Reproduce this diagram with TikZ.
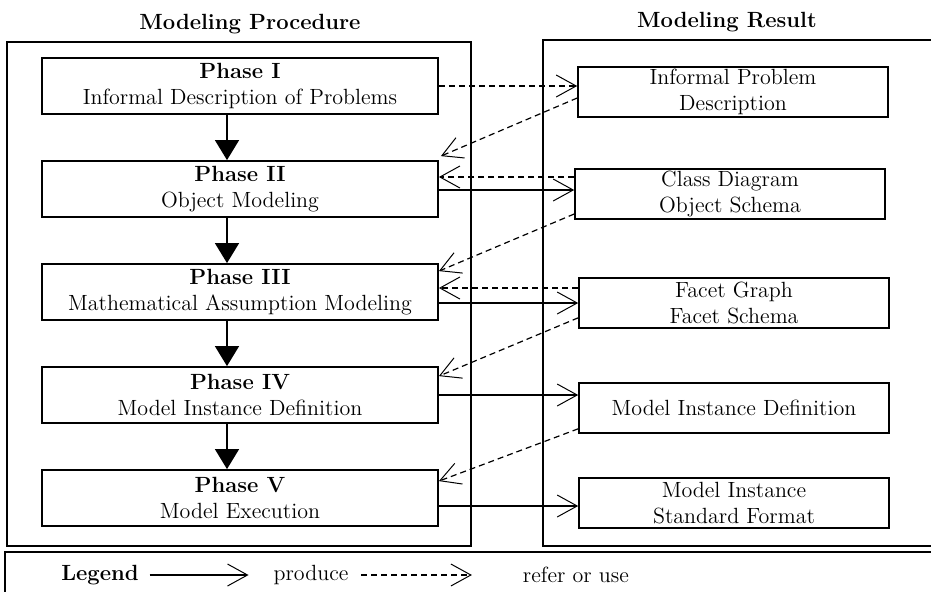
\documentclass[tikz,border=0pt]{standalone}
\usepackage{tikz}
\usetikzlibrary{arrows.meta, positioning, calc}

\begin{document}
\begin{tikzpicture}[
x=0.5pt, y=0.5pt,
node distance=51.5pt,
every node/.style={font=\fontsize{11}{13.2}\selectfont},
box/.style={rectangle, draw=black, line width=0.9pt, minimum width=198pt, minimum height=28pt, align=center, inner sep=1pt},
resbox/.style={rectangle, draw=black, line width=0.8pt, minimum width=155pt, minimum height=25pt, align=center, inner sep=1pt},
title/.style={font=\fontsize{11}{13.2}\selectfont\bfseries},
frame/.style={draw=black, line width=0.7pt},
flow/.style={-{Triangle[width=12pt, length=10pt]}, line width=0.7pt},
produce/.style={-{Straight Barb[width=11pt, length=10pt, line width=0.5pt]}, line width=0.7pt},
refer/.style={-{Straight Barb[width=11pt, length=10pt, line width=0.5pt]}, line width=0.6pt, dash pattern=on 3pt off 2pt}
]
\clip (0,0) rectangle (931,591);

% frames
\draw[frame] (7,45) rectangle (471,549);
\draw[frame] (543,45) rectangle (960,551);
\draw[frame] (5,-20) rectangle (960,39);

\node[title] (proc) at (250,567) {Modeling Procedure};
\node[title] (res) at (727,569) {Modeling Result};

% phases
\node[box] (p1) at (240,505) {\textbf{Phase I}\\Informal Description of Problems};
\node[box, below of=p1] (p2) {\textbf{Phase II}\\Object Modeling};
\node[box, below of=p2] (p3) {\textbf{Phase III}\\Mathematical Assumption Modeling};
\node[box, below of=p3] (p4) {\textbf{Phase IV}\\Model Instance Definition};
\node[box, below of=p4] (p5) {\textbf{Phase V}\\Model Execution};

% results
\node[resbox] (r1) at (733,499) {Informal Problem\\Description};
\node[resbox] (r2) at (730,397) {Class Diagram\\Object Schema};
\node[resbox] (r3) at (734,288) {Facet Graph\\Facet Schema};
\node[resbox] (r4) at (734,183) {Model Instance Definition};
\node[resbox] (r5) at (734,88) {Model Instance\\Standard Format};

\foreach \a/\b in {p1/p2, p2/p3, p3/p4, p4/p5}
  \draw[flow] ([xshift=-6.5pt]\a.south) -- ([xshift=-6.5pt]\b.north);

% produce
\draw[produce] ($(p2.east)+(0,-1)$) -- ($(p2.east -| r2.west)+(0,-1)$);
\draw[produce] (p3.east |- r3.west) -- (r3.west);
\draw[produce] (p4.east) -- (p4.east -| r4.west);
\draw[produce] ($(p5.east)+(0,-8)$) -- ($(p5.east -| r5.west)+(0,-8)$);

% refer or use
\draw[refer] (p1.east) -- (p1.east -| r1.west);
\draw[refer] ($(r1.west)+(0,-6)$) -- ($(p2.north east)+(2,4)$);
\draw[refer] ($(p2.east -| r2.west)+(0,12)$) -- ($(p2.east)+(0,12)$);
\draw[refer] ($(r2.south west)+(0,6)$) -- ($(p3.north east)+(0,-8)$);
\draw[refer] ($(p3.east -| r3.west)+(0,4)$) -- ($(p3.east)+(0,4)$);
\draw[refer] ($(r3.south west)+(0,11)$) -- ($(p4.north east)+(0,-10)$);
\draw[refer] ($(r4.south west)+(0,5)$) -- ($(p5.north east)+(0,-12)$);

% legend
\node[title] (leg) at (100,16) {Legend};
\node (prod) at (311,16) {produce};
\node (use) at (576,16) {refer or use};
\draw[produce] ([xshift=2pt]leg.east) -- ([xshift=-9pt]prod.west);
\draw[refer] ([xshift=3pt]prod.east) -- ([xshift=-22pt]use.west);

\end{tikzpicture}
\end{document}
